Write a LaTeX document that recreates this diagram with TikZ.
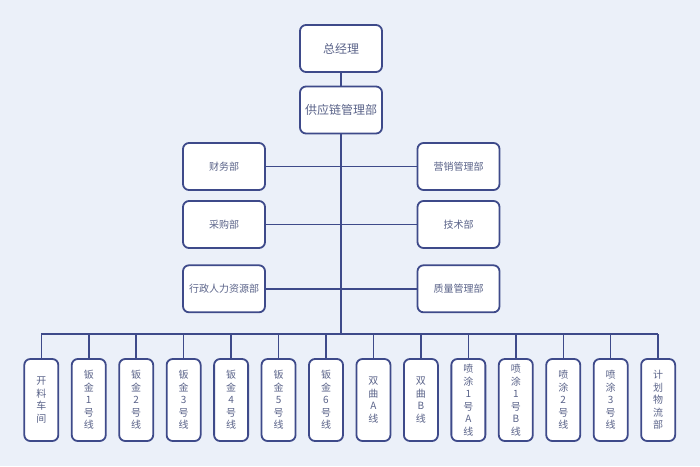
\documentclass[tikz,border=0pt]{standalone}
\usepackage{fontspec}
\newfontfamily\cjk{Noto Sans CJK SC}
\definecolor{bg}{HTML}{EBF0F9}
\definecolor{edge}{HTML}{3E4A8A}
\definecolor{txt}{HTML}{5A6389}
\begin{document}
\begin{tikzpicture}[x=1pt,y=-1pt,
  box/.style={draw=edge,line width=1.8pt,rounded corners=6pt,fill=white,text=txt,inner sep=0pt,align=center},
  topbox/.style={box,minimum width=82pt,minimum height=47pt,font=\cjk\fontsize{12}{14}\selectfont},
  sidebox/.style={box,minimum width=82pt,minimum height=47pt,font=\cjk\fontsize{10}{12}\selectfont},
  linebox/.style={box,minimum width=34pt,minimum height=82pt,font=\cjk\fontsize{10}{12.5}\selectfont},
  conn/.style={draw=edge,line width=1.5pt}]
\fill[bg] (0,0) rectangle (700,466);
\useasboundingbox (0,0) rectangle (700,466);
\coordinate (bus) at (341,334);
\node[topbox] (gm) at (341,48.5) {总经理};
\node[topbox] (scm) at (341,110) {供应链管理部};
\node[sidebox] (fin) at (224,166.5) {财务部};
\node[sidebox] (pur) at (224,224.5) {采购部};
\node[sidebox] (hr) at (224,288.8) {行政人力资源部};
\node[sidebox] (mkt) at (458.5,166.5) {营销管理部};
\node[sidebox] (tec) at (458.5,224.5) {技术部};
\node[sidebox] (qa) at (458.5,288.8) {质量管理部};
\foreach \i/\t in {1/{开\\料\\车\\间},2/{钣\\金\\1\\号\\线},3/{钣\\金\\2\\号\\线},4/{钣\\金\\3\\号\\线},5/{钣\\金\\4\\号\\线},6/{钣\\金\\5\\号\\线},7/{钣\\金\\6\\号\\线},8/{双\\曲\\A\\线},9/{双\\曲\\B\\线},10/{喷\\涂\\1\\号\\A\\线},11/{喷\\涂\\1\\号\\B\\线},12/{喷\\涂\\2\\号\\线},13/{喷\\涂\\3\\号\\线},14/{计\\划\\物\\流\\部}}
  \node[linebox] (b\i) at ({41.3+(\i-1)*47.45},400) {\t};
\draw[conn] (gm) -- (scm);
\draw[conn] (scm) -- (bus);
\draw[conn] (fin) -- (mkt);
\draw[conn] (pur) -- (tec);
\draw[conn] (hr) -- (qa);
\draw[conn] (b1.north |- bus) -- (b14.north |- bus);
\foreach \i in {1,...,14} \draw[conn] (b\i.north) -- (b\i.north |- bus);
\end{tikzpicture}
\end{document}
